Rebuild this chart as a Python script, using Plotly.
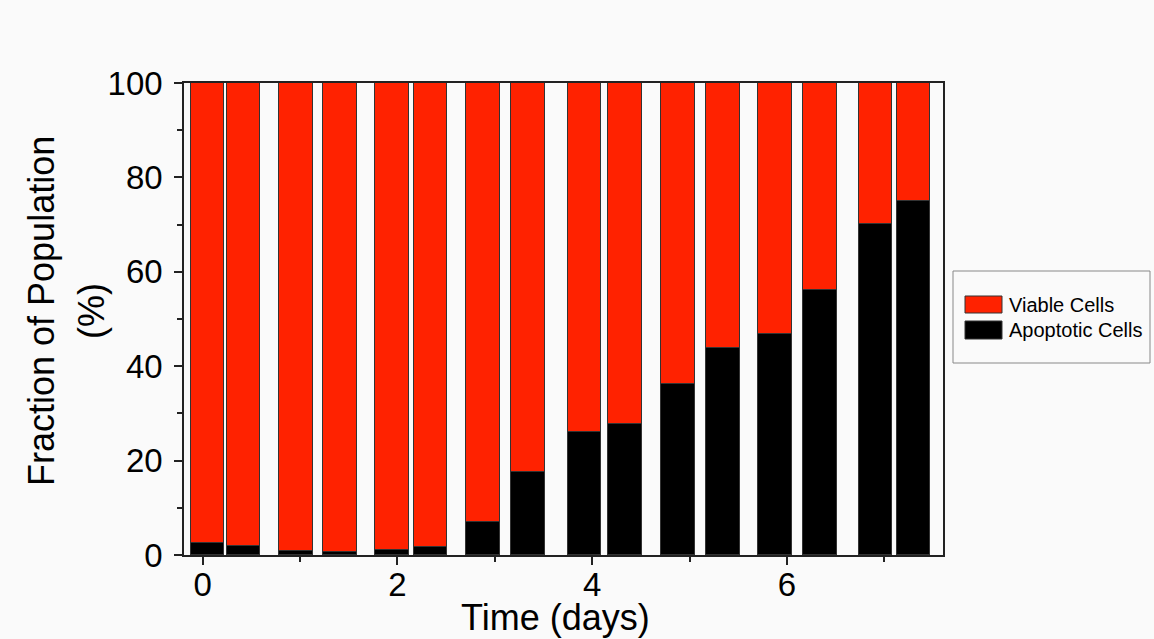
import plotly.graph_objects as go

# Sampling times (days) and population fractions (%)
time_days = [0.05, 0.42, 0.96, 1.41, 1.945, 2.34, 2.88, 3.34, 3.92, 4.34,
             4.88, 5.34, 5.88, 6.34, 6.91, 7.30]
apoptotic = [2.5, 2.0, 0.8, 0.6, 1.0, 1.8, 7.0, 17.5, 26.1, 27.7,
             36.2, 43.9, 46.8, 56.1, 70.1, 74.9]
viable = [100 - a for a in apoptotic]

x_ticks = [0, 2, 4, 6]
y_ticks = [0, 20, 40, 60, 80, 100]

RED = "#ff2200"
BLACK = "#000000"
EDGE = "#333333"
BG = "#fafafa"
FONT = "Liberation Sans, Arial, sans-serif"

fig = go.Figure()
fig.add_trace(go.Bar(x=time_days, y=apoptotic, name="Apoptotic Cells",
                     width=0.346, marker=dict(color=BLACK, line=dict(color=EDGE, width=1))))
fig.add_trace(go.Bar(x=time_days, y=viable, name="Viable Cells",
                     width=0.346, marker=dict(color=RED, line=dict(color=EDGE, width=1))))

# plot area in pixels: x 184..943, y 83..555
L, R, T, B = 184, 943, 83, 555
W, H = 1154, 639


def px(xp):
    return (xp - L) / (R - L)


def py(yp):
    return (B - yp) / (B - T)


fig.update_layout(
    barmode="stack",
    width=W, height=H,
    margin=dict(l=L, r=W - R, t=T, b=H - B, pad=0),
    paper_bgcolor=BG, plot_bgcolor=BG,
    showlegend=False,
    font=dict(family=FONT, color="#000"),
    bargap=0,
)

fig.update_xaxes(
    range=[-0.192, 7.603], tickvals=x_ticks, ticktext=[str(v) for v in x_ticks],
    ticks="outside", ticklen=8, tickwidth=1.5, tickcolor="#222",
    minor=dict(tickvals=[1, 3, 5, 7], ticks="outside", ticklen=5, tickwidth=1.5, tickcolor="#222"),
    showline=True, linecolor="#222", linewidth=1.5, mirror=True,
    showgrid=False, zeroline=False, tickfont=dict(size=33, family=FONT),
    ticklabelstandoff=-8,
)
fig.update_yaxes(
    range=[0, 100], tickvals=y_ticks, ticktext=[str(v) for v in y_ticks],
    ticks="outside", ticklen=8, tickwidth=1.5, tickcolor="#222",
    minor=dict(tickvals=[10, 30, 50, 70, 90], ticks="outside", ticklen=5, tickwidth=1.5, tickcolor="#222"),
    showline=True, linecolor="#222", linewidth=1.5, mirror=True,
    showgrid=False, zeroline=False, tickfont=dict(size=33, family=FONT),
    ticklabelstandoff=5,
)

# axis titles
fig.add_annotation(text="Fraction of Population", x=px(41), y=py(311), xref="paper", yref="paper",
                   textangle=-90, showarrow=False, font=dict(size=36, family=FONT),
                   xanchor="center", yanchor="middle")
fig.add_annotation(text="(%)", x=px(91), y=py(311), xref="paper", yref="paper",
                   textangle=-90, showarrow=False, font=dict(size=36, family=FONT),
                   xanchor="center", yanchor="middle")
fig.add_annotation(text="Time (days)", x=px(555), y=py(617), xref="paper", yref="paper",
                   showarrow=False, font=dict(size=36, family=FONT),
                   xanchor="center", yanchor="middle")

# legend box
fig.add_shape(type="rect", xref="paper", yref="paper",
              x0=px(953), x1=px(1150), y0=py(363), y1=py(271),
              line=dict(color="#888", width=1), fillcolor=BG, layer="above")
legend_items = [("Viable Cells", RED, 296, 313), ("Apoptotic Cells", BLACK, 321, 339)]
for label, color, y_top, y_bot in legend_items:
    fig.add_shape(type="rect", xref="paper", yref="paper",
                  x0=px(965), x1=px(1002), y0=py(y_bot), y1=py(y_top),
                  line=dict(color=EDGE, width=1), fillcolor=color, layer="above")
    fig.add_annotation(text=label, x=px(1007), y=py((y_top + y_bot) / 2), xref="paper", yref="paper",
                       showarrow=False, font=dict(size=20, family=FONT),
                       xanchor="left", yanchor="middle")

fig.write_html("out.html")
